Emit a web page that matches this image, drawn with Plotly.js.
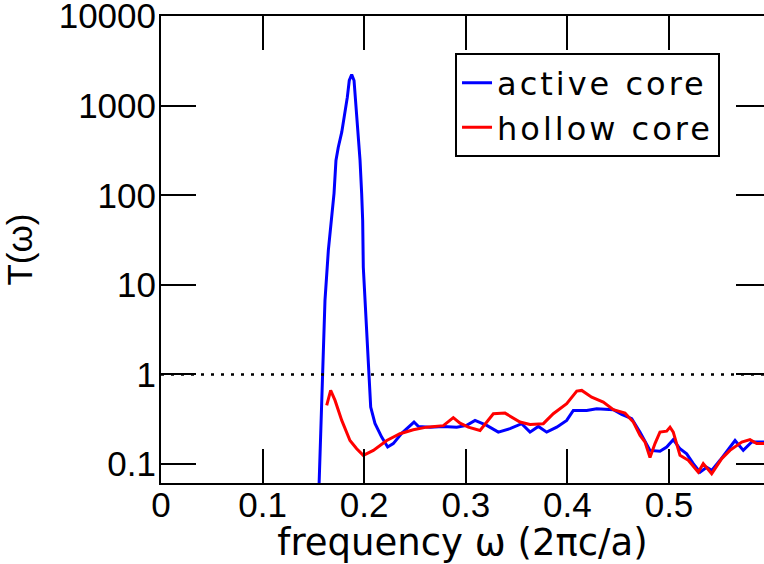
<!DOCTYPE html>
<html>
<head>
<meta charset="utf-8">
<script src="https://cdn.plot.ly/plotly-3.0.1.min.js"></script>
<style>
html,body{margin:0;padding:0;background:#fff;}
#chart{width:764px;height:564px;}
.legendtext{letter-spacing:3px;}
</style>
</head>
<body>
<div id="chart"></div>
<script>
// Active core series
const activeX = [0.1555,0.1592,0.1614,0.1647,0.1680,0.1703,0.1722,0.1745,0.1779,0.1811,0.1834,0.1853,0.1877,0.1900,0.1919,0.1942,0.1959,0.1975,0.1985,0.1991,0.2025,0.2040,0.2064,0.2106,0.2172,0.2231,0.2286,0.2369,0.2434,0.2490,0.2532,0.2648,0.2779,0.2910,0.3009,0.3091,0.3206,0.3320,0.3435,0.3550,0.3632,0.3714,0.3796,0.3895,0.3993,0.4058,0.4190,0.4288,0.4452,0.4534,0.4633,0.4715,0.4813,0.4911,0.4977,0.5042,0.5108,0.5174,0.5239,0.5305,0.5371,0.5420,0.5502,0.5650,0.5731,0.5814,0.5935];
const activeT = [0.055,1.02,6.7,24.2,52,105,245,344,506,818,1245,1910,2230,1910,1058,490,245,105,52,15.8,2.87,1.02,0.432,0.284,0.200,0.155,0.169,0.220,0.258,0.294,0.263,0.258,0.263,0.258,0.270,0.307,0.270,0.227,0.248,0.282,0.227,0.263,0.227,0.258,0.307,0.397,0.397,0.414,0.404,0.358,0.321,0.227,0.142,0.139,0.155,0.187,0.148,0.130,0.101,0.081,0.092,0.085,0.110,0.183,0.142,0.176,0.176];

// Hollow core series
const hollowX = [0.1631,0.1670,0.1713,0.1779,0.1860,0.1926,0.1991,0.2090,0.2222,0.2352,0.2483,0.2615,0.2779,0.2877,0.2943,0.3025,0.3140,0.3271,0.3386,0.3533,0.3632,0.3763,0.3861,0.3993,0.4092,0.4141,0.4239,0.4353,0.4452,0.4567,0.4649,0.4715,0.4764,0.4813,0.4862,0.4911,0.4977,0.5010,0.5042,0.5108,0.5190,0.5288,0.5337,0.5420,0.5519,0.5600,0.5716,0.5797,0.5863,0.5935];
const hollowT = [0.451,0.663,0.513,0.307,0.183,0.148,0.125,0.142,0.183,0.218,0.241,0.258,0.268,0.329,0.286,0.258,0.237,0.364,0.370,0.294,0.277,0.282,0.364,0.471,0.652,0.663,0.558,0.491,0.404,0.370,0.294,0.209,0.176,0.118,0.169,0.227,0.233,0.258,0.227,0.125,0.110,0.081,0.101,0.078,0.115,0.142,0.176,0.187,0.169,0.169];

// Reference line
const refX = [0, 0.6];
const refT = [1, 1];

// Axis ticks
const xTickVals = [0, 0.1, 0.2, 0.3, 0.4, 0.5];
const xTickText = ["0", "0.1", "0.2", "0.3", "0.4", "0.5"];
const yTickVals = [0.1, 1, 10, 100, 1000, 10000];
const yTickText = ["0.1", "1", "10", "100", "1000", "10000"];

const yRange = [Math.log10(0.0614), 4.0008];

const traces = [
  {x: refX, y: refT, mode: 'lines', showlegend: false, hoverinfo: 'skip',
   line: {color: '#000', width: 2.5, dash: '3px,7px'}, yaxis: 'y2'},
  {x: activeX, y: activeT, mode: 'lines', name: 'active core',
   line: {color: '#0000ff', width: 3}},
  {x: hollowX, y: hollowT, mode: 'lines', name: 'hollow core',
   line: {color: '#ff0000', width: 3}}
];

const layout = {
  width: 764, height: 564,
  margin: {l: 161, r: 0, t: 16, b: 81, pad: 0},
  paper_bgcolor: '#fff', plot_bgcolor: '#fff',
  showlegend: true,
  legend: {
    x: 0.4876, y: 0.92, xanchor: 'left', yanchor: 'top',
    bgcolor: '#fff', bordercolor: '#000', borderwidth: 2,
    font: {family: 'DejaVu Sans', size: 32, color: '#000'},
    tracegroupgap: 0, itemwidth: 30
  },
  xaxis: {
    range: [0, 0.5935], showgrid: false, zeroline: false,
    showline: true, linecolor: '#000', linewidth: 2, mirror: 'ticks',
    ticks: 'inside', ticklen: 34, tickwidth: 2, tickcolor: '#000',
    tickvals: xTickVals, ticktext: xTickText, ticklabelstandoff: -10,
    tickfont: {family: 'Liberation Sans', size: 35, color: '#000'},
    title: {text: 'frequency ω (2πc/a)', standoff: 0,
            font: {family: 'DejaVu Sans', size: 37, color: '#000'}}
  },
  yaxis: {
    type: 'log', range: yRange, showgrid: false, zeroline: false,
    showline: true, linecolor: '#000', linewidth: 2,
    ticks: 'inside', ticklen: 35, tickwidth: 2, tickcolor: '#000',
    tickvals: yTickVals, ticktext: yTickText, ticklabelstandoff: -4,
    ticklabeloverflow: 'allow',
    tickfont: {family: 'Liberation Sans', size: 35, color: '#000'},
    title: {text: 'T(ω)', standoff: 22,
            font: {family: 'Liberation Sans', size: 35, color: '#000'}}
  },
  yaxis2: {
    type: 'log', range: yRange, overlaying: 'y', side: 'right',
    showgrid: false, zeroline: false, showline: false,
    ticks: 'inside', ticklen: 28, tickwidth: 2, tickcolor: '#000',
    tickvals: yTickVals, showticklabels: false
  }
};

Plotly.newPlot('chart', traces, layout, {displayModeBar: false, staticPlot: true});
</script>
</body>
</html>
